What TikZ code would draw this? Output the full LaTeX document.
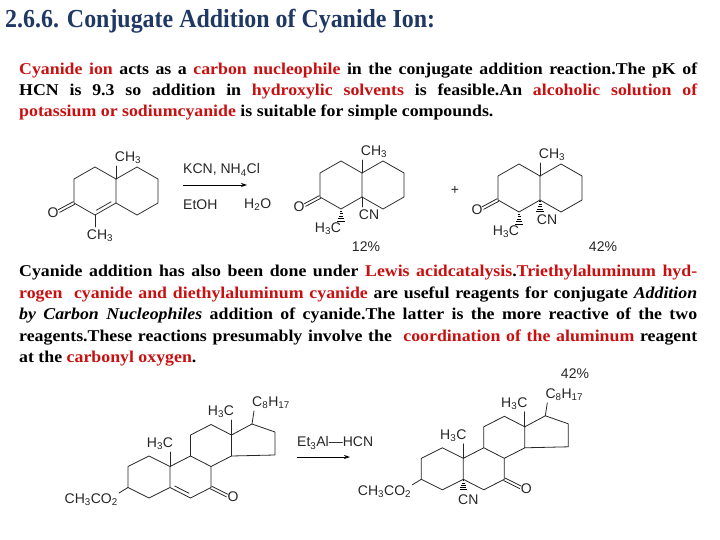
\documentclass[tikz,border=0pt]{standalone}
\usepackage{fontspec}
\setmainfont{Liberation Serif}[FakeStretch=1.08]
\newfontfamily\titlef{Liberation Serif}[FakeStretch=0.92]
\newfontfamily\chemf{Liberation Sans}
\usetikzlibrary{calc,arrows.meta}
\definecolor{titleblue}{RGB}{31,56,100}
\definecolor{hired}{RGB}{200,16,16}
\newcommand\R[1]{\textcolor{hired}{#1}}
\newcommand\jl[1]{\hbox to 678pt{#1}}
\newcommand\hashb[2]{\foreach \t/\w in {0.15/0.8,0.35/1.5,0.55/2.2,0.75/2.9,0.95/3.6}{\draw[line width=0.8pt] ($(#1)!\t!(#2)+(-\w,0)$) -- ($(#1)!\t!(#2)+(\w,0)$);}}
\tikzset{
  bond/.style={line width=0.8pt,draw=black!85,line cap=round,line join=round},
  lab/.style={font=\chemf\fontsize{14}{15}\selectfont,inner sep=0pt,text=black!85},
  txt/.style={anchor=base west,inner sep=0pt,font=\bfseries\fontsize{16.5}{18}\selectfont},
  arr/.style={line width=0.8pt,-{Stealth[length=6pt,width=4pt]}}
}
\begin{document}
\begin{tikzpicture}[x=1pt,y=-1pt]
\useasboundingbox (0,0) rectangle (720,540);
\node[anchor=base west,inner sep=0pt,text=titleblue,font=\titlef\bfseries\fontsize{26}{28}\selectfont] (title) at (5,28) {2.6.6. Conjugate Addition of Cyanide Ion:};
% paragraph 1
\node[txt] (p1a) at (19,75) {\jl{\R{Cyanide ion} acts as a \R{carbon nucleophile} in the conjugate addition reaction.The pK of}};
\node[txt] (p1b) at (19,96) {\jl{HCN is 9.3 so addition in \R{hydroxylic solvents} is feasible.An \R{alcoholic solution of}}};
\node[txt] (p1c) at (19,117) {\R{potassium or sodiumcyanide} is suitable for simple compounds.};
% paragraph 2
\node[txt] (p2a) at (19,276) {\jl{Cyanide addition has also been done under \R{Lewis acidcatalysis}.\R{Triethylaluminum hyd-}}};
\node[txt] (p2b) at (19,298) {\jl{\R{rogen\ \ cyanide and diethylaluminum cyanide} are useful reagents for conjugate \textit{Addition}}};
\node[txt] (p2c) at (19,319) {\jl{\textit{by Carbon Nucleophiles} addition of cyanide.The latter is the more reactive of the two}};
\node[txt] (p2d) at (19,341) {\jl{reagents.These reactions presumably involve the \ \R{coordination of the aluminum} reagent}};
\node[txt] (p2e) at (19,362) {at the \R{carbonyl oxygen}.};

% ---------- decalone molecules ----------
\foreach \sx/\sy/\kind in {116/191/1,362/185/2,540/188/3}{
\begin{scope}[shift={(\sx,\sy)}]
\coordinate (S1) at (0,-12); \coordinate (S2) at (0,12);
\coordinate (LA) at (-21,-24); \coordinate (LB) at (-42,-12); \coordinate (LC) at (-42,12); \coordinate (LD) at (-21,24);
\coordinate (RA) at (21,-24); \coordinate (RB) at (42,-12); \coordinate (RC) at (42,12); \coordinate (RD) at (21,24);
\draw[bond] (S1)--(LA)--(LB)--(LC)--(LD)--(S2)--cycle;
\draw[bond] (S1)--(RA)--(RB)--(RC)--(RD)--(S2);
\draw[bond] ($(LC)+(0.7,1.3)$)--($(-57,20)+(0.7,1.3)$);
\draw[bond] ($(LC)+(-0.7,-1.3)$)--($(-57,20)+(-0.7,-1.3)$);
\node[lab] (O) at (-63,22) {O};
\draw[bond] (S1)--(0,-25);
\node[lab] (Me) at (12,-33) {CH\textsubscript{3}};
\end{scope}
}
% molecule 1 specifics
\begin{scope}[shift={(116,191)}]
\draw[bond] (-19.6,19.2)--(-4.9,10.8);
\draw[bond] (-21,24)--(-21,36);
\node[lab] (m1b) at (-16,45) {CH\textsubscript{3}};
\end{scope}
% molecule 2 specifics
\begin{scope}[shift={(362,185)}]
\coordinate (a) at (-21,24); \coordinate (b) at (-21,37);
\hashb{a}{b}
\node[lab] (m2me) at (-34,44) {H\textsubscript{3}C};
\draw[bond] (0,12)--(0,22);
\node[lab] (m2cn) at (7,30) {CN};
\end{scope}
% molecule 3 specifics
\begin{scope}[shift={(540,188)}]
\coordinate (a) at (-21,24); \coordinate (b) at (-21,37);
\hashb{a}{b}
\node[lab] (m3me) at (-34,44) {H\textsubscript{3}C};
\coordinate (c) at (0,12); \coordinate (d) at (0,24);
\hashb{c}{d}
\node[lab] (m3cn) at (7,32) {CN};
\end{scope}
\node[lab,anchor=west] (r1) at (183,170) {KCN, NH\textsubscript{4}Cl};
\coordinate (ar1s) at (183,185); \coordinate (ar1e) at (247,185);
\draw[arr] (ar1s)--(ar1e);
\node[lab,anchor=west] (r2) at (183,205) {EtOH};
\node[lab,anchor=west] (r3) at (244,205) {H\textsubscript{2}O};
\node[lab] (plus) at (455,190) {+};
\node[lab] (y1) at (366,247) {12\%};
\node[lab] (y2) at (603,247) {42\%};

% ---------- steroids ----------
\foreach \sx/\sy/\kind in {0/0/1,293.3/-8.2/2}{
\begin{scope}[shift={(\sx,\sy)}]
\coordinate (C1) at (149,456); \coordinate (C2) at (128,466.5); \coordinate (C3) at (128,487.5);
\coordinate (C4) at (149,498); \coordinate (C5) at (170,487.5); \coordinate (C10) at (170,466.5);
\coordinate (C9) at (190.5,456); \coordinate (C8) at (211,466.5); \coordinate (C7) at (211,487.5);
\coordinate (C6) at (190.5,498); \coordinate (C11) at (190.5,435); \coordinate (C12) at (211,424.5);
\coordinate (C13) at (231.5,435); \coordinate (C14) at (231.5,456); \coordinate (C17) at (252,424);
\coordinate (C16) at (275,432); \coordinate (C15) at (275,455);
\draw[bond] (C10)--(C1)--(C2)--(C3)--(C4)--(C5)--(C10)--(C9)--(C8)--(C7)--(C6)--(C5);
\draw[bond] (C9)--(C11)--(C12)--(C13)--(C14)--(C8);
\draw[bond] (C13)--(C17)--(C16)--(C15)--(C14);
\draw[bond] ($(C7)+(-0.7,1.3)$)--($(227,495.5)+(-0.7,1.3)$);
\draw[bond] ($(C7)+(0.7,-1.3)$)--($(227,495.5)+(0.7,-1.3)$);
\node[lab] (O7) at (233,497) {O};
\draw[bond] (C3)--(119,493);
\node[lab,anchor=east] (ac) at (118,500) {CH\textsubscript{3}CO\textsubscript{2}};
\draw[bond] (C10)--(170,452);
\node[lab] (m10) at (160,444) {H\textsubscript{3}C};
\draw[bond] (C13)--(231.5,420);
\node[lab] (m13) at (221,412) {H\textsubscript{3}C};
\draw[bond] (C17)--(254,411);
\node[lab] (side) at (271,403) {C\textsubscript{8}H\textsubscript{17}};
\end{scope}
}
\draw[bond] (174.7,486)--(189,493.3);
\begin{scope}[shift={(293.3,-8.2)}]
\coordinate (p) at (170,487.5); \coordinate (q) at (170,498);
\hashb{p}{q}
\node[lab] (cn2) at (175,508) {CN};
\end{scope}
\node[lab,anchor=west] (r4) at (297,443) {Et\textsubscript{3}Al—HCN};
\coordinate (ar2s) at (297,457); \coordinate (ar2e) at (350,457);
\draw[arr] (ar2s)--(ar2e);
\node[lab] (y3) at (575,374) {42\%};
\end{tikzpicture}
\end{document}
